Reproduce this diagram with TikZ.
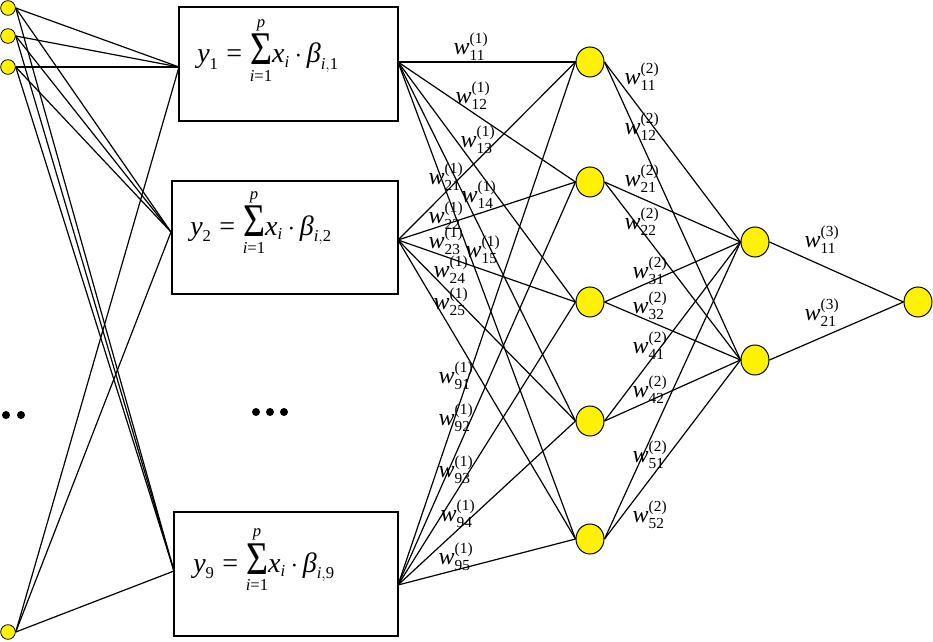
\documentclass[tikz,border=0pt]{standalone}
\usepackage{fontspec}
\setmainfont{Liberation Serif}
\usepackage{amsmath}
\usepackage{graphicx}
\usetikzlibrary{shapes.geometric,fit}
\DeclareMathSizes{21}{21}{12.5}{9}
\DeclareMathSizes{18}{18}{11.5}{9}
\newcommand{\wl}[2]{$\textit{w}_{\text{#1}}^{\text{(#2)}}$}
\newcommand{\bigsig}{\mathop{\hbox{\raisebox{-1.5pt}{\resizebox{16.5pt}{23pt}{Σ}}}}\limits}
\newcommand{\ysum}[1]{\thickmuskip=5mu \medmuskip=3mu \thinmuskip=0mu $\displaystyle \textit{y}_{\text{#1}} \mathrel{\text{=}} \bigsig_{\textit{i}\text{=1}}^{\textit{p}} \textit{x}_{\textit{i}} \cdot \textit{β}_{\textit{i},\text{#1}}$}
\begin{document}
\begin{tikzpicture}[x=0.75pt,y=-0.75pt,
  inp/.style={circle, draw, fill=yellow, minimum size=11pt, inner sep=0pt, line width=0.6pt},
  neu/.style={ellipse, draw, fill=yellow, minimum width=21pt, minimum height=22.5pt, inner sep=0pt, line width=0.75pt},
  con/.style={line width=0.9pt},
  lab/.style={inner sep=0pt, font=\fontsize{18}{20}\selectfont},
  fml/.style={anchor=base west, inner sep=0pt, font=\fontsize{21}{25}\selectfont},
  boxx/.style={draw, line width=1pt, inner sep=0pt},
  dotb/.style={circle, fill=black, minimum size=6pt, inner sep=0pt}]
\useasboundingbox (0,0) rectangle (933,642);
% boxes
\node[boxx, fit={(179,7) (398,121)}] (box1) {};
\node[boxx, fit={(172,181) (398,294)}] (box2) {};
\node[boxx, fit={(174,512) (398,636)}] (box9) {};
\node[fml] (f1) at (197,63) {\ysum{1}};
\node[fml] (f2) at (190,235) {\ysum{2}};
\node[fml] (f9) at (193,572) {\ysum{9}};
\coordinate (b1L) at (179,67);
\coordinate (b1R) at (398,62);
\coordinate (b2L) at (171,232);
\coordinate (b2R) at (398,240);
\coordinate (b9L) at (174,571);
\coordinate (b9R) at (398,585);
% inputs
\node[inp] (i1) at (8,8) {};
\node[inp] (i2) at (8,36) {};
\node[inp] (i3) at (8,67) {};
\node[inp] (i4) at (8,632) {};
% hidden
\node[neu] (h1) at (590,62) {};
\node[neu] (h2) at (590,182) {};
\node[neu] (h3) at (590,302) {};
\node[neu] (h4) at (590,421) {};
\node[neu] (h5) at (590,539) {};
\node[neu] (l1) at (755,242) {};
\node[neu] (l2) at (755,360) {};
\node[neu] (out) at (918,302) {};
% connectors
\foreach \i in {i1,i2,i3,i4}
  \foreach \b in {b1L,b2L,b9L}
    \draw[con] (\i.east) -- (\b);
\foreach \b in {b1R,b2R,b9R}
  \foreach \h in {h1,h2,h3,h4,h5}
    \draw[con] (\b) -- (\h.west);
\foreach \h in {h1,h2,h3,h4,h5}
  \foreach \l in {l1,l2}
    \draw[con] (\h.east) -- (\l.west);
\foreach \l in {l1,l2}
  \draw[con] (\l.east) -- (out.west);
% dots
\node[dotb] (d1) at (256,412) {};
\node[dotb] (d2) at (270,412) {};
\node[dotb] (d3) at (284,412) {};
\node[dotb] (d4) at (6,415) {};
\node[dotb] (d5) at (21,415) {};
% labels layer 1
\node[lab] (w111) at (471,47) {\wl{11}{1}};
\node[lab] (w112) at (473,96) {\wl{12}{1}};
\node[lab] (w113) at (478,140) {\wl{13}{1}};
\node[lab] (w121) at (446,177) {\wl{21}{1}};
\node[lab] (w114) at (479,195) {\wl{14}{1}};
\node[lab] (w122) at (446,216) {\wl{22}{1}};
\node[lab] (w123) at (446,241) {\wl{23}{1}};
\node[lab] (w115) at (483,250) {\wl{15}{1}};
\node[lab] (w124) at (451,270) {\wl{24}{1}};
\node[lab] (w125) at (451,302) {\wl{25}{1}};
\node[lab] (w191) at (456,376) {\wl{91}{1}};
\node[lab] (w192) at (456,418) {\wl{92}{1}};
\node[lab] (w193) at (456,470) {\wl{93}{1}};
\node[lab] (w194) at (458,514) {\wl{94}{1}};
\node[lab] (w195) at (456,557) {\wl{95}{1}};
% labels layer 2
\node[lab] (w211) at (642,77) {\wl{11}{2}};
\node[lab] (w212) at (642,127) {\wl{12}{2}};
\node[lab] (w221) at (642,179) {\wl{21}{2}};
\node[lab] (w222) at (642,222) {\wl{22}{2}};
\node[lab] (w231) at (650,271) {\wl{31}{2}};
\node[lab] (w232) at (650,306) {\wl{32}{2}};
\node[lab] (w241) at (650,346) {\wl{41}{2}};
\node[lab] (w242) at (650,390) {\wl{42}{2}};
\node[lab] (w251) at (650,455) {\wl{51}{2}};
\node[lab] (w252) at (650,515) {\wl{52}{2}};
% labels layer 3
\node[lab] (w311) at (822,240) {\wl{11}{3}};
\node[lab] (w321) at (822,313) {\wl{21}{3}};
\end{tikzpicture}
\end{document}
